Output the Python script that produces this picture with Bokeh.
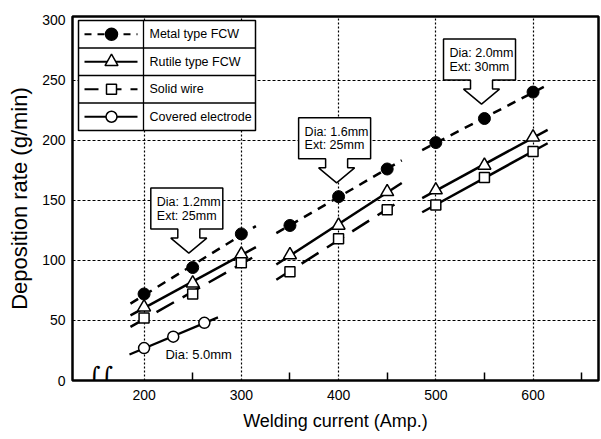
import numpy as np
from bokeh.plotting import figure
from bokeh.models import Range1d, FixedTicker, Label
from bokeh.core.properties import value
from bokeh.embed import file_html
from bokeh.resources import INLINE

# ---------------- data ----------------
currents = [200, 250, 300, 350, 400, 450, 500, 550, 600]
groups = [0, 0, 0, 1, 1, 1, 2, 2, 2]
metal = [72, 94, 122, 129, 153, 176, 198, 218, 240]
rutile = [61, 81, 105, 104.5, 129, 157, 158.5, 179, 202.5]
solid = [52, 72, 98, 90.5, 118, 142, 146, 169, 190.5]
covered_current = [200, 230, 262]
covered = [27, 36.5, 48]

series_names = ["Metal type FCW", "Rutile type FCW", "Solid wire", "Covered electrode"]
callout_lines = [["Dia: 1.2mm", "Ext: 25mm"], ["Dia: 1.6mm", "Ext: 25mm"], ["Dia: 2.0mm", "Ext: 30mm"]]
callout_tip_x = [246, 398, 547]
callout_tip_y = [106, 164.5, 230]
covered_note = "Dia: 5.0mm"
covered_note_x = 222
covered_note_y = 21.6

x_ticks = [200, 300, 400, 500, 600]
x_minor = [250, 350, 450, 550, 650]
y_ticks = [0, 50, 100, 150, 200, 250, 300]

# ---------------- layout ----------------
W, H = 601, 439
FL, FR, FT, FB = 72, 598, 16, 380
X0, X1 = 126.4, 667.3
Y1 = 302.9
sx = (FR - FL) / (X1 - X0)   # px per amp
sy = (FB - FT) / Y1          # px per g/min

def dx(px):
    return X0 + (px - FL) / sx

def dy(py):
    return (FB - py) / sy

FONT = "Liberation Sans"

p = figure(width=W, height=H, output_backend="svg", toolbar_location=None,
           x_range=Range1d(X0, X1), y_range=Range1d(0, Y1),
           min_border_left=FL, min_border_right=W - FR, min_border_top=FT,
           min_border_bottom=H - FB)
p.background_fill_color = "white"
p.border_fill_color = "white"
p.outline_line_color = "black"
p.outline_line_width = 2.5

# axes
p.xaxis.ticker = FixedTicker(ticks=x_ticks, minor_ticks=x_minor)
p.yaxis.ticker = FixedTicker(ticks=y_ticks)
for ax in (p.xaxis[0], p.yaxis[0]):
    ax.axis_line_color = None
    ax.major_tick_in = 0
    ax.major_tick_out = 0
    ax.major_label_text_font = FONT
    ax.major_label_text_font_size = "14px"
    ax.major_label_text_color = "black"
    ax.axis_label_text_font_style = "normal"
    ax.axis_label_text_color = "black"
p.xaxis.minor_tick_in = 8
p.xaxis.minor_tick_out = 0
p.xaxis.minor_tick_line_width = 1.5
p.xaxis.minor_tick_line_color = "black"
p.yaxis.minor_tick_line_color = None
p.xaxis.major_label_standoff = 9
p.yaxis.major_label_standoff = 7
p.xaxis.axis_label = "Welding current (Amp.)"
p.xaxis.axis_label_text_font = FONT
p.xaxis.axis_label_text_font_size = "18px"
p.xaxis.axis_label_standoff = 8
p.yaxis.axis_label = "Deposition rate (g/min)"
p.yaxis.axis_label_text_font = FONT
p.yaxis.axis_label_text_font_size = "22px"
p.yaxis.axis_label_standoff = 7

# grids
p.xgrid.grid_line_color = "black"
p.xgrid.grid_line_dash = "2 2"
p.xgrid.grid_line_width = 1.2
p.ygrid.ticker = FixedTicker(ticks=[50, 100, 150, 200, 250])
p.ygrid.grid_line_color = "black"
p.ygrid.grid_line_dash = "3 2"
p.ygrid.grid_line_width = 1.0

# ---------------- fitted lines ----------------
cur = np.array(currents, dtype=float)
grp = np.array(groups)
line_styles = [
    (metal, ["9 7", "9 7", "9 7"]),
    (rutile, ["solid", "solid", "solid"]),
    (solid, ["20 10", "20 10", "solid"]),
]
for ys, dashes in line_styles:
    ys = np.array(ys, dtype=float)
    for g in range(3):
        m = grp == g
        k, b = np.polyfit(cur[m], ys[m], 1)
        xa, xb = cur[m].min() - 14, cur[m].max() + 15
        p.line([xa, xb], [k * xa + b, k * xb + b], line_color="black",
               line_width=2.5, line_dash=dashes[g])
cc = np.array(covered_current, dtype=float)
k, b = np.polyfit(cc, np.array(covered, dtype=float), 1)
xa, xb = cc.min() - 15, cc.max() + 14
p.line([xa, xb], [k * xa + b, k * xb + b], line_color="black", line_width=2.2)

# markers
p.scatter(currents, metal, marker="circle", size=12, fill_color="black", line_color="black")
p.scatter(currents, rutile, marker="triangle", size=13, fill_color="white",
          line_color="black", line_width=1.5)
p.scatter(currents, solid, marker="square", size=10, fill_color="white",
          line_color="black", line_width=1.5)
p.scatter(covered_current, covered, marker="circle", size=11, fill_color="white",
          line_color="black", line_width=1.5)

p.text(x=[covered_note_x], y=[covered_note_y], text=[covered_note],
       text_font=value(FONT), text_font_size="13px", text_align="left",
       text_baseline="middle", text_color="black")

# ---------------- callouts ----------------
# shape offsets relative to arrow tip, in pixels
shape_px = [(-38, -65), (34, -65), (34, -24), (11, -24), (11, -15), (18, -15),
            (0, 0), (-18, -15), (-11, -15), (-11, -24), (-38, -24)]
for tx, ty, lines in zip(callout_tip_x, callout_tip_y, callout_lines):
    xs = [tx + ox / sx for ox, oy in shape_px]
    ys = [ty - oy / sy for ox, oy in shape_px]
    p.patch(xs, ys, fill_color="white", line_color="black", line_width=1.5)
    for i, t in enumerate(lines):
        p.text(x=[tx - 32 / sx], y=[ty + (51 - 13.5 * i) / sy], text=[t],
               text_font=value(FONT), text_font_size="12.5px", text_align="left",
               text_baseline="middle", text_color="black")

# ---------------- legend (drawn as a table) ----------------
LX0, LX1, LDIV = 78, 255, 143
LY0, LY1 = 20, 130
rows = 4
rh = (LY1 - LY0) / rows
p.quad(left=[dx(LX0)], right=[dx(LX1)], top=[dy(LY0)], bottom=[dy(LY1)],
       fill_color="white", line_color="black", line_width=1.5)
for r in range(1, rows):
    yy = dy(LY0 + r * rh)
    p.line([dx(LX0), dx(LX1)], [yy, yy], line_color="black", line_width=1.3)
p.line([dx(LDIV), dx(LDIV)], [dy(LY0), dy(LY1)], line_color="black", line_width=1.3)

sym = [("circle", "black", 12, "7 6"), ("triangle", "white", 13, "solid"),
       ("square", "white", 10, "14 9"), ("circle", "white", 11, "solid")]
for r, (name, (mk, fc, sz, dash)) in enumerate(zip(series_names, sym)):
    yc = dy(LY0 + (r + 0.5) * rh)
    p.line([dx(84), dx(137)], [yc, yc], line_color="black", line_width=2.2, line_dash=dash)
    p.scatter([dx(111)], [yc], marker=mk, size=sz, fill_color=fc, line_color="black",
              line_width=1.5)
    p.text(x=[dx(149)], y=[yc], text=[name], text_font=value(FONT),
           text_font_size="12.5px", text_align="left", text_baseline="middle",
           text_color="black")

# axis break mark
p.add_layout(Label(x=dx(100), y=0, y_offset=5, text="\u222b\u222b", text_align="center",
                   text_baseline="middle", text_font="DejaVu Serif",
                   text_font_size="24px", text_color="black"))

open("out.html", "w").write(file_html(p, INLINE))
